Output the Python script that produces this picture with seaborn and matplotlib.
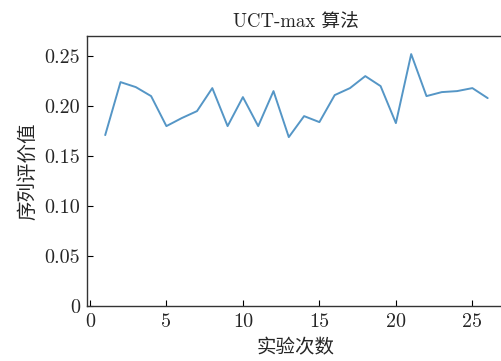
import matplotlib
matplotlib.use("Agg")
import matplotlib.pyplot as plt
import seaborn as sns
import pandas as pd

runs = list(range(1, 27))
values = [0.171, 0.224, 0.219, 0.210, 0.180, 0.188, 0.195, 0.218, 0.180, 0.209,
          0.180, 0.215, 0.169, 0.190, 0.184, 0.211, 0.218, 0.230, 0.220, 0.183,
          0.252, 0.210, 0.214, 0.215, 0.218, 0.208]
x_ticks = [0, 5, 10, 15, 20, 25]
y_ticks = [0, 0.05, 0.10, 0.15, 0.20, 0.25]
y_tick_labels = ["0", "0.05", "0.10", "0.15", "0.20", "0.25"]
title = "UCT-max 算法"
xlabel = "实验次数"
ylabel = "序列评价值"

sns.set_theme(style="ticks")
fams = ['cmr10', 'Noto Sans CJK SC', 'DejaVu Serif']
plt.rcParams['font.family'] = fams
plt.rcParams['axes.formatter.use_mathtext'] = True

df = pd.DataFrame({"run": runs, "value": values})

fig = plt.figure(figsize=(5.02, 3.61), dpi=100)
ax = fig.add_axes([0.173, 0.152, 0.832, 0.748])
sns.lineplot(data=df, x="run", y="value", ax=ax, color="#5596c6", linewidth=1.4)

ax.set_xlim(-0.2, 27.1)
ax.set_ylim(0, 0.27)
ax.set_xticks(x_ticks)
ax.set_xticklabels([str(t) for t in x_ticks], family=fams, fontsize=14.5)
ax.set_yticks(y_ticks)
ax.set_yticklabels(y_tick_labels, family=fams, fontsize=14.5)
ax.tick_params(direction="in", length=4, width=0.8, color="black", pad=5,
               top=False, right=False)
for s in ax.spines.values():
    s.set_color("#333333")
    s.set_linewidth(1.0)

ax.set_title(title, family=fams, fontsize=13.5, pad=6)
ax.set_xlabel(xlabel, family=fams, fontsize=14, labelpad=6)
ax.set_ylabel(ylabel, family=fams, fontsize=14, labelpad=5)

fig.savefig("out.png", dpi=100)
